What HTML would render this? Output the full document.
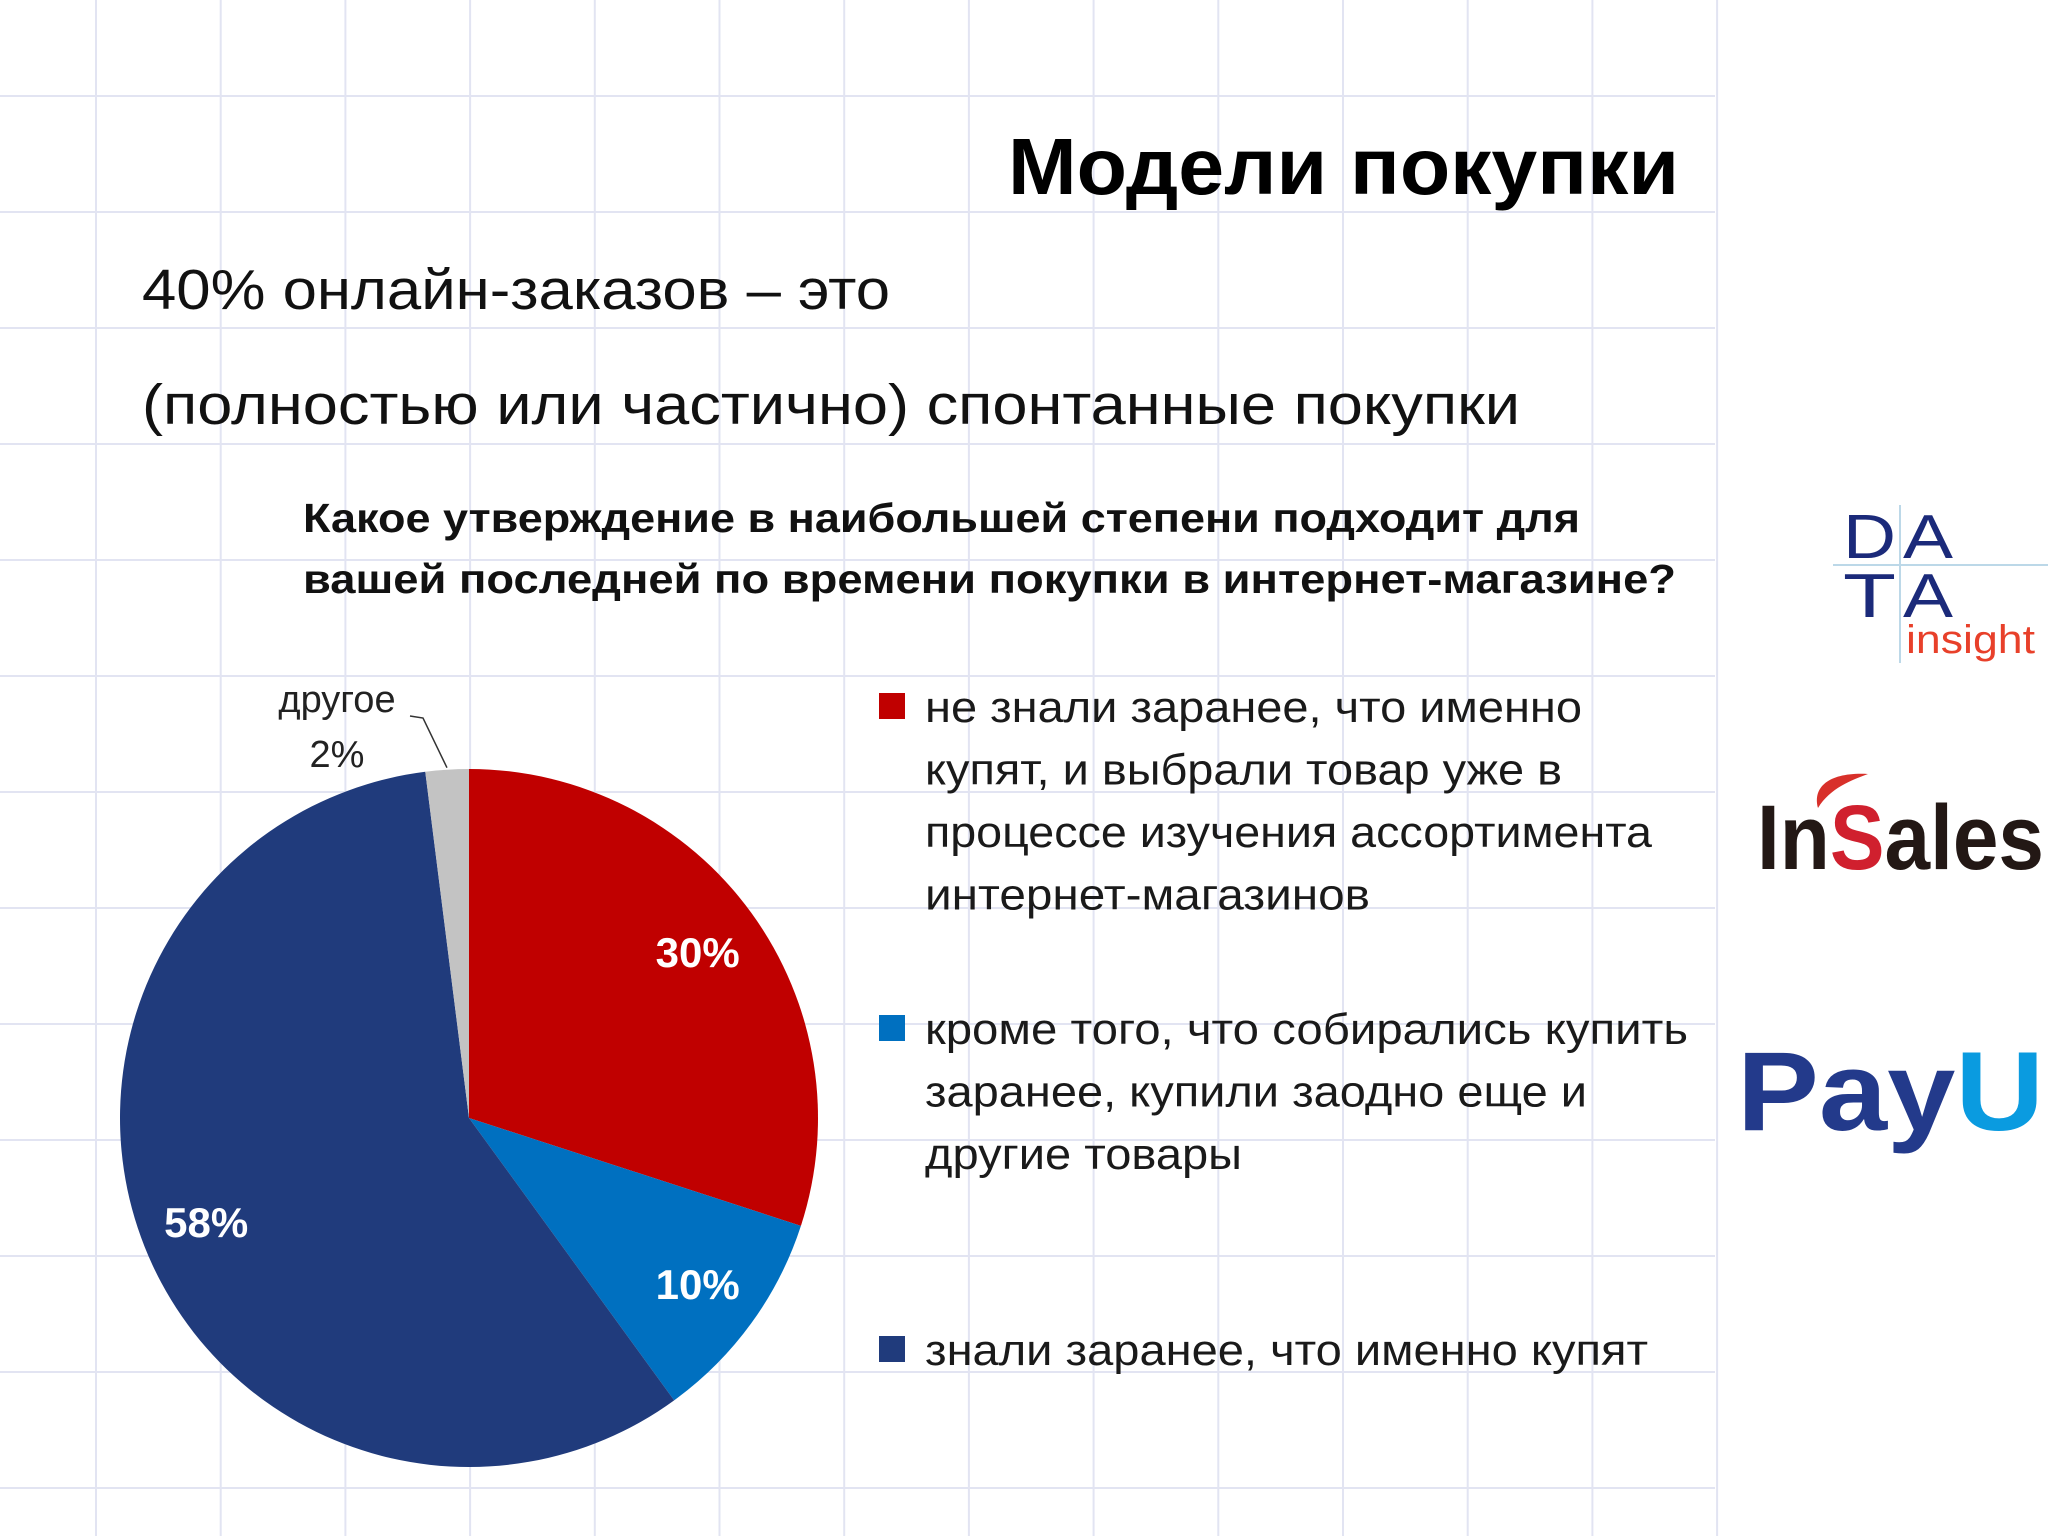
<!DOCTYPE html>
<html><head><meta charset="utf-8"><style>
html,body{margin:0;padding:0;background:#fff}
svg{display:block}
text{font-family:"Liberation Sans","DejaVu Sans",sans-serif}
</style></head><body>
<svg id="s" width="2048" height="1536" viewBox="0 0 2048 1536" xmlns="http://www.w3.org/2000/svg">
<rect width="2048" height="1536" fill="#fff"/>
<g id="grid" stroke="#e2e4f2" stroke-width="2"></g>
<text x="1679" y="194" font-size="80" font-weight="bold" text-anchor="end" textLength="671" lengthAdjust="spacingAndGlyphs" fill="#000">Модели покупки</text>
<text x="142" y="309" font-size="57" textLength="748" lengthAdjust="spacingAndGlyphs" fill="#111">40% онлайн-заказов – это</text>
<text x="142" y="424" font-size="57" textLength="1378" lengthAdjust="spacingAndGlyphs" fill="#111">(полностью или частично) спонтанные покупки</text>
<text x="303" y="532" font-size="41" font-weight="bold" textLength="1277" lengthAdjust="spacingAndGlyphs" fill="#111">Какое утверждение в наибольшей степени подходит для</text>
<text x="303" y="593" font-size="41" font-weight="bold" textLength="1373" lengthAdjust="spacingAndGlyphs" fill="#111">вашей последней по времени покупки в интернет-магазине?</text>
<g id="pie"></g>
<g id="legend"></g>
<!-- logos -->
<g>
<line x1="1833" y1="565" x2="2048" y2="565" stroke="#bcd8e8" stroke-width="2"/>
<line x1="1900" y1="505" x2="1900" y2="663" stroke="#bcd8e8" stroke-width="2"/>
<text x="1843" y="558" font-size="62" fill="#1b2a7a" textLength="53" lengthAdjust="spacingAndGlyphs">D</text>
<text x="1903" y="558" font-size="62" fill="#1b2a7a" textLength="50" lengthAdjust="spacingAndGlyphs">A</text>
<text x="1843" y="617" font-size="62" fill="#1b2a7a" textLength="53" lengthAdjust="spacingAndGlyphs">T</text>
<text x="1903" y="617" font-size="62" fill="#1b2a7a" textLength="50" lengthAdjust="spacingAndGlyphs">A</text>
<text x="1906" y="653" font-size="40" fill="#e8402a" textLength="129" lengthAdjust="spacingAndGlyphs">insight</text>
</g>
<g>
<path d="M1818,808 C1812,785 1832,772 1868,774 C1852,780 1830,788 1818,808 Z" fill="#d8302a"/>
<text x="1757" y="869" font-size="92" font-weight="bold" fill="#231815" textLength="287" lengthAdjust="spacingAndGlyphs">In<tspan fill="#d0202e">S</tspan>ales</text>
</g>
<g>
<text x="1737" y="1130" font-size="112" font-weight="bold" fill="#233a8b" textLength="307" lengthAdjust="spacingAndGlyphs">Pay<tspan fill="#0a9be0">U</tspan></text>
</g>
</svg>
<script>
const categories = ["не знали заранее, что именно купят", "кроме того, что собирались купить заранее, купили заодно еще и другие товары", "знали заранее, что именно купят", "другое"];
const values = [30, 10, 58, 2];
const valueLabels = ["30%", "10%", "58%", "2%"];
const colors = ["#c00000", "#0070c0", "#203b7c", "#c3c3c3"];
const legendLines = [["не знали заранее, что именно","купят, и выбрали товар уже в","процессе изучения ассортимента","интернет-магазинов"],["кроме того, что собирались купить","заранее, купили заодно еще и","другие товары"],["знали заранее, что именно купят"]];
const legendWidths = [[657,637,727,445],[763,662,317],[723]];

const NS = "http://www.w3.org/2000/svg";
function mk(tag, attrs, parent){const e=document.createElementNS(NS,tag);for(const k in attrs)e.setAttribute(k,attrs[k]);parent.appendChild(e);return e;}

const grid=document.getElementById('grid');
for(let i=0;i<14;i++){const x=96+i*124.7;const l=mk('line',{x1:x,y1:0,x2:x,y2:1536},grid);

}
for(let j=0;j<13;j++){const y=96+j*116;const l=mk('line',{x1:0,y1:y,x2:1715,y2:y},grid);

}

const pie=document.getElementById('pie');
const cx=469, cy=1118, r=349;
const total=values.reduce((a,b)=>a+b,0);
function pt(frac,rad){const a=frac*2*Math.PI;return [cx+rad*Math.sin(a),cy-rad*Math.cos(a)];}
let acc=0;
values.forEach((v,i)=>{
  const s=acc/total, e=(acc+v)/total; acc+=v;
  const p0=pt(s,r), p1=pt(e,r);
  const large=(e-s)>0.5?1:0;
  const p=mk('path',{d:`M${cx},${cy} L${p0[0]},${p0[1]} A${r},${r} 0 ${large} 1 ${p1[0]},${p1[1]} Z`,fill:colors[i]},pie);
  
  
  const mid=(s+e)/2;
  if(i<3){
    const lp=pt(mid,r*0.81);
    const t=mk('text',{x:lp[0],y:lp[1]+15,'font-size':42,'font-weight':'bold',fill:'#fff','text-anchor':'middle'},pie);
    t.textContent=valueLabels[i];
    
    
  } else {
    const a=pt(mid,r+2);
    const ln=mk('polyline',{points:`${a[0]},${a[1]} 423,718 410,716`,fill:'none',stroke:'#333','stroke-width':1.5},pie);
    
    
    const t1=mk('text',{x:337,y:712,'font-size':38,fill:'#222','text-anchor':'middle'},pie);
    t1.textContent=categories[i];
    
    
    const t2=mk('text',{x:337,y:767,'font-size':38,fill:'#222','text-anchor':'middle'},pie);
    t2.textContent=valueLabels[i];
    
    
  }
});

const lg=document.getElementById('legend');
const starts=[722,1044,1365];
legendLines.forEach((lines,i)=>{
  const sq=mk('rect',{x:879,y:starts[i]-29,width:26,height:26,fill:colors[i]},lg);
  
  
  lines.forEach((ln,k)=>{
    const t=mk('text',{x:925,y:starts[i]+k*62.5,'font-size':44,fill:'#1a1a1a',textLength:legendWidths[i][k],lengthAdjust:'spacingAndGlyphs'},lg);
    t.textContent=ln;
    
    
  });
});
</script>
</body></html>
